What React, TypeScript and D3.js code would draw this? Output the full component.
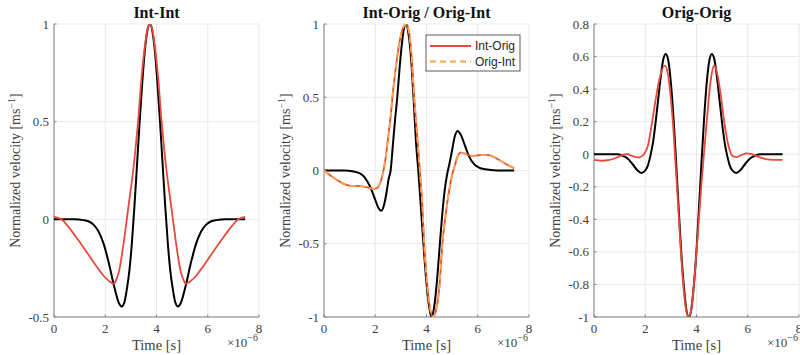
import React from 'react';
import * as d3 from 'd3';

// x axis (microseconds, shown with ×10^-6 multiplier)
const xTicks = [0, 2, 4, 6, 8];
const p1Ticks = [-0.5, 0, 0.5, 1];
const p2Ticks = [-1, -0.5, 0, 0.5, 1];
const p3Ticks = [-1, -0.8, -0.6, -0.4, -0.2, 0, 0.2, 0.4, 0.6, 0.8];
const titles = ['Int-Int', 'Int-Orig / Orig-Int', 'Orig-Orig'];
const legendLabels = ['Int-Orig', 'Orig-Int'];

// Panel 1: reference (black) and Int-Int (red)
const p1Ref: [number, number][] = [
  [0, 0], [0.8, 0], [1.14, -0.004], [1.34, -0.01], [1.54, -0.027], [1.74, -0.062], [1.94, -0.127],
  [2.14, -0.224], [2.34, -0.34], [2.54, -0.431], [2.64, -0.446], [2.74, -0.428], [2.84, -0.36],
  [2.94, -0.265], [3.04, -0.12], [3.14, 0.069], [3.24, 0.28], [3.34, 0.495], [3.44, 0.69],
  [3.54, 0.857], [3.64, 0.963], [3.74, 1], [3.84, 0.963], [3.94, 0.857], [4.04, 0.69],
  [4.14, 0.495], [4.24, 0.28], [4.34, 0.069], [4.44, -0.12], [4.54, -0.265], [4.64, -0.36],
  [4.74, -0.428], [4.84, -0.446], [4.94, -0.431], [5.14, -0.34], [5.34, -0.224], [5.54, -0.127],
  [5.74, -0.062], [5.94, -0.027], [6.14, -0.01], [6.34, -0.004], [6.7, 0], [7.46, 0],
];
const p1IntInt: [number, number][] = [
  [0, 0.012], [0.29, 0], [0.54, -0.035], [0.94, -0.105], [1.34, -0.18], [1.74, -0.255],
  [1.94, -0.29], [2.14, -0.315], [2.34, -0.33], [2.44, -0.305], [2.54, -0.265], [2.64, -0.19],
  [2.74, -0.1], [2.84, 0], [2.94, 0.1], [3.09, 0.25], [3.28, 0.5], [3.44, 0.76], [3.54, 0.88],
  [3.64, 0.97], [3.74, 1], [3.84, 0.97], [3.94, 0.88], [4.04, 0.76], [4.2, 0.5], [4.39, 0.25],
  [4.54, 0.1], [4.64, 0], [4.74, -0.1], [4.84, -0.19], [4.94, -0.265], [5.04, -0.305],
  [5.14, -0.33], [5.34, -0.315], [5.54, -0.29], [5.74, -0.255], [6.14, -0.18], [6.54, -0.105],
  [6.94, -0.035], [7.19, 0], [7.46, 0.012],
];

// Panel 2: reference (black), Int-Orig (red) and Orig-Int (orange dashed)
const p2Ref: [number, number][] = [
  [0, 0], [0.8, 0], [1.1, -0.005], [1.4, -0.02], [1.6, -0.05], [1.8, -0.11], [2.0, -0.2],
  [2.12, -0.255], [2.23, -0.275], [2.35, -0.23], [2.45, -0.14], [2.52, -0.06], [2.6, 0],
  [2.7, 0.2], [2.78, 0.36], [2.86, 0.5], [2.95, 0.7], [3.05, 0.88], [3.12, 0.97], [3.19, 1],
  [3.3, 0.93], [3.4, 0.76], [3.5, 0.48], [3.6, 0.17], [3.68, 0], [3.78, -0.25], [3.88, -0.5],
  [3.98, -0.73], [4.08, -0.9], [4.19, -1], [4.3, -0.93], [4.4, -0.77], [4.5, -0.55],
  [4.6, -0.33], [4.7, -0.15], [4.8, -0.03], [4.9, 0.05], [5.0, 0.14], [5.1, 0.23], [5.21, 0.27],
  [5.35, 0.24], [5.5, 0.17], [5.65, 0.1], [5.85, 0.045], [6.05, 0.02], [6.3, 0.008],
  [6.6, 0.002], [7.0, 0], [7.42, 0],
];
const p2IntOrig: [number, number][] = [
  [0, 0], [0.3, -0.04], [0.6, -0.075], [0.9, -0.1], [1.1, -0.105], [1.3, -0.105], [1.55, -0.11],
  [1.8, -0.12], [1.95, -0.125], [2.1, -0.115], [2.2, -0.08], [2.3, -0.02], [2.4, 0.08],
  [2.5, 0.22], [2.6, 0.37], [2.67, 0.5], [2.8, 0.7], [2.95, 0.88], [3.1, 0.98], [3.23, 1],
  [3.3, 0.96], [3.4, 0.82], [3.52, 0.5], [3.63, 0.25], [3.74, 0], [3.84, -0.25], [3.91, -0.5],
  [4.0, -0.72], [4.1, -0.9], [4.26, -1], [4.4, -0.93], [4.5, -0.8], [4.62, -0.5], [4.75, -0.3],
  [4.9, -0.12], [5.0, -0.03], [5.1, 0.03], [5.2, 0.09], [5.34, 0.122], [5.5, 0.115],
  [5.7, 0.102], [5.86, 0.1], [6.1, 0.105], [6.38, 0.106], [6.6, 0.095], [6.8, 0.075],
  [7.0, 0.055], [7.2, 0.035], [7.42, 0.015],
];
const p2OrigInt: [number, number][] = [
  [0, 0], [0.3, -0.04], [0.6, -0.075], [0.9, -0.1], [1.1, -0.105], [1.3, -0.105], [1.55, -0.11],
  [1.8, -0.12], [1.95, -0.125], [2.1, -0.115], [2.2, -0.08], [2.3, -0.02], [2.4, 0.08],
  [2.5, 0.22], [2.6, 0.37], [2.67, 0.5], [2.8, 0.7], [2.95, 0.88], [3.1, 0.98], [3.23, 1],
  [3.3, 0.96], [3.4, 0.82], [3.52, 0.5], [3.63, 0.25], [3.74, 0], [3.84, -0.25], [3.91, -0.5],
  [4.0, -0.72], [4.1, -0.9], [4.26, -1], [4.4, -0.93], [4.5, -0.8], [4.62, -0.5], [4.75, -0.3],
  [4.9, -0.12], [5.0, -0.03], [5.1, 0.03], [5.2, 0.09], [5.34, 0.122], [5.5, 0.115],
  [5.7, 0.102], [5.86, 0.1], [6.1, 0.105], [6.38, 0.106], [6.6, 0.095], [6.8, 0.075],
  [7.0, 0.055], [7.2, 0.035], [7.42, 0.015],
];

// Panel 3: reference (black) and Orig-Orig (red)
const p3Ref: [number, number][] = [
  [0, 0], [0.9, 0], [1.1, -0.008], [1.3, -0.025], [1.5, -0.06], [1.7, -0.1], [1.85, -0.115],
  [2.0, -0.1], [2.1, -0.07], [2.2, -0.01], [2.3, 0.07], [2.4, 0.19], [2.5, 0.33], [2.6, 0.47],
  [2.7, 0.58], [2.8, 0.616], [2.9, 0.575], [3.0, 0.44], [3.1, 0.228], [3.2, -0.036],
  [3.25, -0.18], [3.3, -0.32], [3.4, -0.59], [3.5, -0.8], [3.6, -0.95], [3.7, -1], [3.8, -0.95],
  [3.9, -0.8], [4.0, -0.59], [4.1, -0.32], [4.15, -0.18], [4.2, -0.036], [4.3, 0.228],
  [4.4, 0.44], [4.5, 0.575], [4.6, 0.616], [4.7, 0.58], [4.8, 0.47], [4.9, 0.33], [5.0, 0.19],
  [5.1, 0.07], [5.2, -0.01], [5.3, -0.07], [5.4, -0.1], [5.55, -0.115], [5.7, -0.1],
  [5.9, -0.06], [6.1, -0.025], [6.3, -0.008], [6.5, 0], [7.36, 0],
];
const p3OrigOrig: [number, number][] = [
  [0, -0.035], [0.3, -0.04], [0.6, -0.035], [0.9, -0.02], [1.1, -0.005], [1.3, 0],
  [1.5, -0.012], [1.75, -0.02], [1.95, 0], [2.1, 0.05], [2.25, 0.18], [2.4, 0.33], [2.55, 0.46],
  [2.76, 0.544], [2.9, 0.48], [3.0, 0.34], [3.1, 0.15], [3.15, 0.02], [3.22, -0.15],
  [3.3, -0.36], [3.4, -0.62], [3.5, -0.83], [3.6, -0.96], [3.69, -1], [3.8, -0.95],
  [3.9, -0.8], [4.0, -0.6], [4.1, -0.38], [4.2, -0.17], [4.3, 0.02], [4.4, 0.2], [4.5, 0.38],
  [4.6, 0.5], [4.69, 0.544], [4.8, 0.5], [4.95, 0.36], [5.1, 0.18], [5.25, 0.05], [5.4, -0.01],
  [5.55, -0.018], [5.75, -0.005], [5.95, 0.005], [6.15, 0], [6.4, -0.015], [6.7, -0.03],
  [7.0, -0.035], [7.36, -0.035],
];

const RED = '#e8493a';
const ORANGE = '#f7a84a';
const SERIF = '"Liberation Serif", "Times New Roman", serif';
const SANS = '"Liberation Sans", Arial, sans-serif';

type Series = { data: [number, number][]; color: string; dash?: string; width: number };
type PanelDef = { left: number; ticks: number[]; title: string; series: Series[]; legend?: boolean; id: string };

const panels: PanelDef[] = [
  { id: 'a', left: 54, ticks: p1Ticks, title: titles[0], series: [
    { data: p1Ref, color: '#000', width: 2 },
    { data: p1IntInt, color: RED, width: 1.8 },
  ] },
  { id: 'b', left: 324, ticks: p2Ticks, title: titles[1], legend: true, series: [
    { data: p2Ref, color: '#000', width: 2 },
    { data: p2IntOrig, color: RED, width: 1.8 },
    { data: p2OrigInt, color: ORANGE, width: 1.8, dash: '6,4' },
  ] },
  { id: 'c', left: 594, ticks: p3Ticks, title: titles[2], series: [
    { data: p3Ref, color: '#000', width: 2 },
    { data: p3OrigOrig, color: RED, width: 1.8 },
  ] },
];

const TOP = 24;
const BOTTOM = 317;
const PW = 205;

function fmt(v: number) {
  return d3.format('')(v).replace('\u2212', '-');
}

function Panel({ p }: { p: PanelDef }) {
  const x = d3.scaleLinear().domain([0, 8]).range([p.left, p.left + PW]);
  const y = d3.scaleLinear().domain([p.ticks[0], p.ticks[p.ticks.length - 1]]).range([BOTTOM, TOP]);
  const line = d3.line<[number, number]>().x(d => x(d[0])).y(d => y(d[1])).curve(d3.curveMonotoneX);
  const cx = p.left + PW / 2;
  const cy = (TOP + BOTTOM) / 2;
  return (
    <g>
      <defs>
        <clipPath id={'clip' + p.id}>
          <rect x={p.left} y={TOP} width={PW} height={BOTTOM - TOP} />
        </clipPath>
      </defs>
      {/* grid */}
      {xTicks.map(t => (
        <line key={'gx' + t} x1={x(t)} x2={x(t)} y1={TOP} y2={BOTTOM} stroke="#e3e3e3" strokeWidth={0.8} />
      ))}
      {p.ticks.map(t => (
        <line key={'gy' + t} x1={p.left} x2={p.left + PW} y1={y(t)} y2={y(t)} stroke="#e3e3e3" strokeWidth={0.8} />
      ))}
      {/* axes */}
      <line x1={p.left} x2={p.left} y1={TOP} y2={BOTTOM} stroke="#808080" strokeWidth={1} />
      <line x1={p.left} x2={p.left + PW} y1={BOTTOM} y2={BOTTOM} stroke="#808080" strokeWidth={1} />
      {xTicks.map(t => (
        <line key={'tx' + t} x1={x(t)} x2={x(t)} y1={BOTTOM} y2={BOTTOM - 2.5} stroke="#808080" strokeWidth={1} />
      ))}
      {p.ticks.map(t => (
        <line key={'ty' + t} x1={p.left} x2={p.left + 2.5} y1={y(t)} y2={y(t)} stroke="#808080" strokeWidth={1} />
      ))}
      {/* tick labels */}
      {xTicks.map(t => (
        <text key={'lx' + t} x={x(t)} y={BOTTOM + 16} textAnchor="middle" fontFamily={SERIF} fontSize={13} fill="#404040">{fmt(t)}</text>
      ))}
      {p.ticks.map(t => (
        <text key={'ly' + t} x={p.left - 5} y={y(t) + 4.5} textAnchor="end" fontFamily={SERIF} fontSize={13} fill="#404040">{fmt(t)}</text>
      ))}
      {/* series */}
      <g clipPath={`url(#clip${p.id})`}>
        {p.series.map((s, i) => (
          <path key={i} d={line(s.data) || ''} fill="none" stroke={s.color} strokeWidth={s.width}
            strokeDasharray={s.dash} strokeLinejoin="round" />
        ))}
      </g>
      {/* title */}
      <text x={cx} y={18} textAnchor="middle" fontFamily={SERIF} fontWeight="bold" fontSize={16} fill="#111">{p.title}</text>
      {/* x label */}
      <text x={cx} y={350} textAnchor="middle" fontFamily={SERIF} fontSize={14.5} fill="#404040">Time [s]</text>
      <text x={p.left + PW - 1} y={347} textAnchor="end" fontFamily={SERIF} fontSize={13} fill="#404040">
        ×10<tspan dy={-6} fontSize={10}>−6</tspan>
      </text>
      {/* y label */}
      <text transform={`translate(${p.left - 34},${cy}) rotate(-90)`} textAnchor="middle" fontFamily={SERIF} fontSize={14} fill="#404040">
        Normalized velocity [ms<tspan dy={-5} fontSize={10}>−1</tspan><tspan dy={5}>]</tspan>
      </text>
      {p.legend && (
        <g>
          <rect x={426} y={35} width={94} height={36} fill="#fff" stroke="#333" strokeWidth={0.8} />
          <line x1={430} x2={471} y1={46} y2={46} stroke={RED} strokeWidth={1.8} />
          <line x1={430} x2={471} y1={61.5} y2={61.5} stroke={ORANGE} strokeWidth={1.8} strokeDasharray="6,4" />
          <text x={475} y={50} fontFamily={SANS} fontSize={12} fill="#262626">{legendLabels[0]}</text>
          <text x={475} y={65.5} fontFamily={SANS} fontSize={12} fill="#262626">{legendLabels[1]}</text>
        </g>
      )}
    </g>
  );
}

export default function App() {
  return (
    <svg width={800} height={355} style={{ position: 'absolute', left: 0, top: 0, background: '#fff' }}>
      <rect x={0} y={0} width={800} height={355} fill="#fff" />
      {panels.map(p => <Panel key={p.id} p={p} />)}
    </svg>
  );
}
